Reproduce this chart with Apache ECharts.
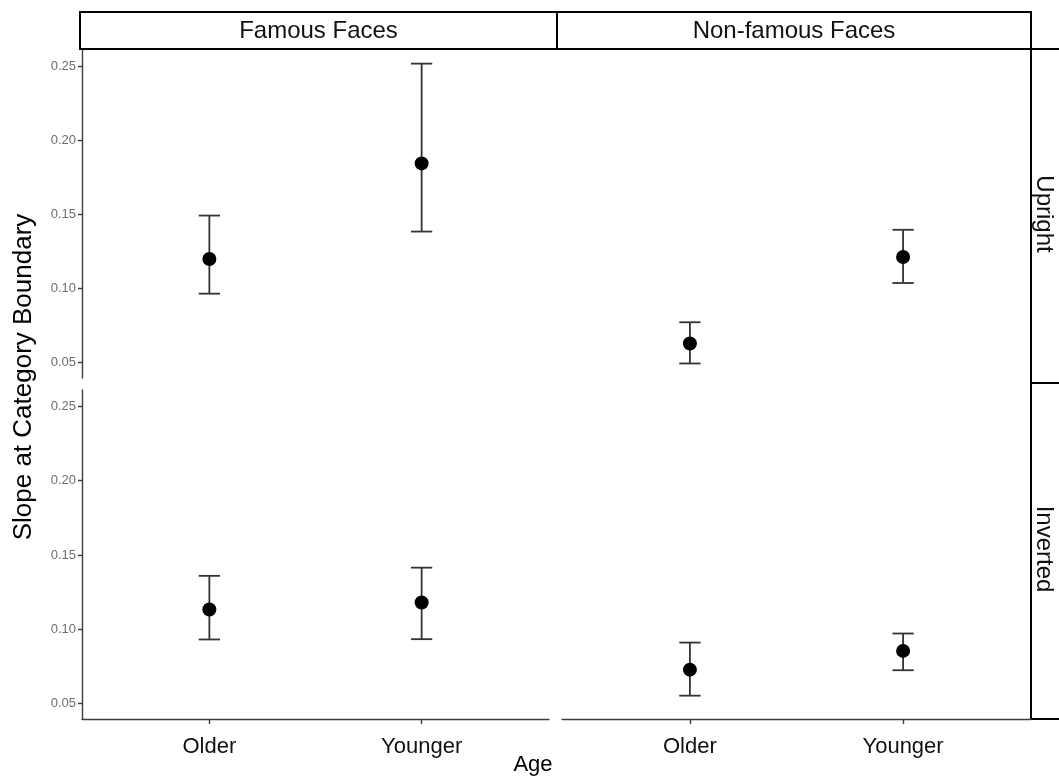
<!DOCTYPE html>
<html>
<head>
<meta charset="utf-8">
<script src="https://cdn.jsdelivr.net/npm/echarts@6/dist/echarts.min.js"></script>
<style>html,body{margin:0;padding:0;background:#fff}#c{width:1059px;height:778px}</style>
</head>
<body>
<div id="c"></div>
<script>
// ---- data ----
const categories = ['Older', 'Younger'];
const faceTypes = ['Famous Faces', 'Non-famous Faces'];
const orientations = ['Upright', 'Inverted'];
const yTicks = [0.05, 0.10, 0.15, 0.20, 0.25];

const famousUprightMean = [0.120, 0.1845];
const famousUprightLow = [0.0966, 0.1385];
const famousUprightHigh = [0.1493, 0.2518];

const nonfamousUprightMean = [0.063, 0.1213];
const nonfamousUprightLow = [0.0495, 0.1038];
const nonfamousUprightHigh = [0.0773, 0.1397];

const famousInvertedMean = [0.1134, 0.1181];
const famousInvertedLow = [0.0932, 0.0934];
const famousInvertedHigh = [0.136, 0.1415];

const nonfamousInvertedMean = [0.0729, 0.0855];
const nonfamousInvertedLow = [0.0554, 0.0725];
const nonfamousInvertedHigh = [0.0911, 0.0972];

const xTitle = 'Age';
const yTitle = 'Slope at Category Boundary';

// ---- layout ----
const FONT = 'Liberation Sans, Arial, Helvetica, sans-serif';
const AXIS_COLOR = '#3d3d3d';
const grids = [
  { left: 82, top: 50, width: 467, height: 328 },
  { left: 562, top: 50, width: 469, height: 328 },
  { left: 82, top: 390, width: 467, height: 329 },
  { left: 562, top: 390, width: 469, height: 329 }
];
const panels = [
  { mean: famousUprightMean, low: famousUprightLow, high: famousUprightHigh },
  { mean: nonfamousUprightMean, low: nonfamousUprightLow, high: nonfamousUprightHigh },
  { mean: famousInvertedMean, low: famousInvertedLow, high: famousInvertedHigh },
  { mean: nonfamousInvertedMean, low: nonfamousInvertedLow, high: nonfamousInvertedHigh }
];
const catPos = categories.map((c, i) => i + 1);

const xAxes = grids.map((g, i) => {
  const bottom = i >= 2;
  return {
    type: 'value', gridIndex: i, min: 0.4, max: 2.6,
    splitLine: { show: false },
    axisLine: { show: bottom, onZero: false, lineStyle: { color: AXIS_COLOR, width: 1.4 } },
    axisTick: { show: bottom, customValues: catPos, length: 5, lineStyle: { color: AXIS_COLOR, width: 1.4 } },
    axisLabel: {
      show: bottom, customValues: catPos, margin: 17,
      color: '#111', fontSize: 22, fontFamily: FONT,
      formatter: v => categories[Math.round(v) - 1] || ''
    }
  };
});
const yAxes = grids.map((g, i) => {
  const left = i % 2 === 0;
  return {
    type: 'value', gridIndex: i, min: 0.0397, max: 0.261,
    splitLine: { show: false },
    axisLine: { show: left, lineStyle: { color: AXIS_COLOR, width: 1.4 } },
    axisTick: { show: left, customValues: yTicks, length: 4, lineStyle: { color: AXIS_COLOR, width: 1.4 } },
    axisLabel: {
      show: left, customValues: yTicks, margin: 6,
      color: '#6e6e6e', fontSize: 13, fontFamily: FONT,
      formatter: v => v.toFixed(2)
    }
  };
});

const series = [];
panels.forEach((p, i) => {
  series.push({
    type: 'custom', xAxisIndex: i, yAxisIndex: i,
    data: catPos.map((x, k) => [x, p.low[k], p.high[k]]),
    renderItem: (params, api) => {
      const x = api.value(0), lo = api.value(1), hi = api.value(2);
      const a = api.coord([x, lo]), b = api.coord([x, hi]);
      const l1 = api.coord([x - 0.05, lo]), r1 = api.coord([x + 0.05, lo]);
      const l2 = api.coord([x - 0.05, hi]), r2 = api.coord([x + 0.05, hi]);
      const st = { stroke: '#333', lineWidth: 1.8 };
      return {
        type: 'group', children: [
          { type: 'line', shape: { x1: a[0], y1: a[1], x2: b[0], y2: b[1] }, style: st },
          { type: 'line', shape: { x1: l1[0], y1: l1[1], x2: r1[0], y2: r1[1] }, style: st },
          { type: 'line', shape: { x1: l2[0], y1: l2[1], x2: r2[0], y2: r2[1] }, style: st }
        ]
      };
    },
    z: 2
  });
  series.push({
    type: 'scatter', xAxisIndex: i, yAxisIndex: i,
    data: catPos.map((x, k) => [x, p.mean[k]]),
    symbol: 'circle', symbolSize: 14,
    itemStyle: { color: '#000', opacity: 1 },
    z: 3
  });
});

// strips
const graphic = [];
const stripTop = 12, stripBottom = 49;
const topStripX = [[80, 557], [557, 1031]];
faceTypes.forEach((t, i) => {
  const [x0, x1] = topStripX[i];
  graphic.push({ type: 'rect', shape: { x: x0, y: stripTop, width: x1 - x0, height: stripBottom - stripTop },
    style: { fill: '#fff', stroke: '#000', lineWidth: 2 } });
  graphic.push({ type: 'text', x: (x0 + x1) / 2, y: (stripTop + stripBottom) / 2 + 1,
    style: { text: t, fill: '#111', font: '24px ' + FONT, align: 'center', verticalAlign: 'middle' } });
});
const rightStripY = [[49, 383], [383, 719]];
orientations.forEach((t, i) => {
  const [y0, y1] = rightStripY[i];
  graphic.push({ type: 'rect', shape: { x: 1031, y: y0, width: 60, height: y1 - y0 },
    style: { fill: '#fff', stroke: '#000', lineWidth: 2 } });
  graphic.push({ type: 'text', x: 1044, y: (y0 + y1) / 2 - 2, rotation: -Math.PI / 2,
    style: { text: t, fill: '#111', font: '24px ' + FONT, align: 'center', verticalAlign: 'middle' } });
});
graphic.push({ type: 'text', x: 533, y: 765,
  style: { text: xTitle, fill: '#000', font: '22px ' + FONT, align: 'center', verticalAlign: 'middle' } });
graphic.push({ type: 'text', x: 24, y: 377, rotation: Math.PI / 2,
  style: { text: yTitle, fill: '#000', font: '26px ' + FONT, align: 'center', verticalAlign: 'middle' } });

const chart = echarts.init(document.getElementById('c'), null, { renderer: 'canvas' });
chart.setOption({
  animation: false,
  backgroundColor: '#fff',
  grid: grids.map(g => Object.assign({ containLabel: false }, g)),
  xAxis: xAxes,
  yAxis: yAxes,
  series: series,
  graphic: graphic
});
</script>
</body>
</html>
